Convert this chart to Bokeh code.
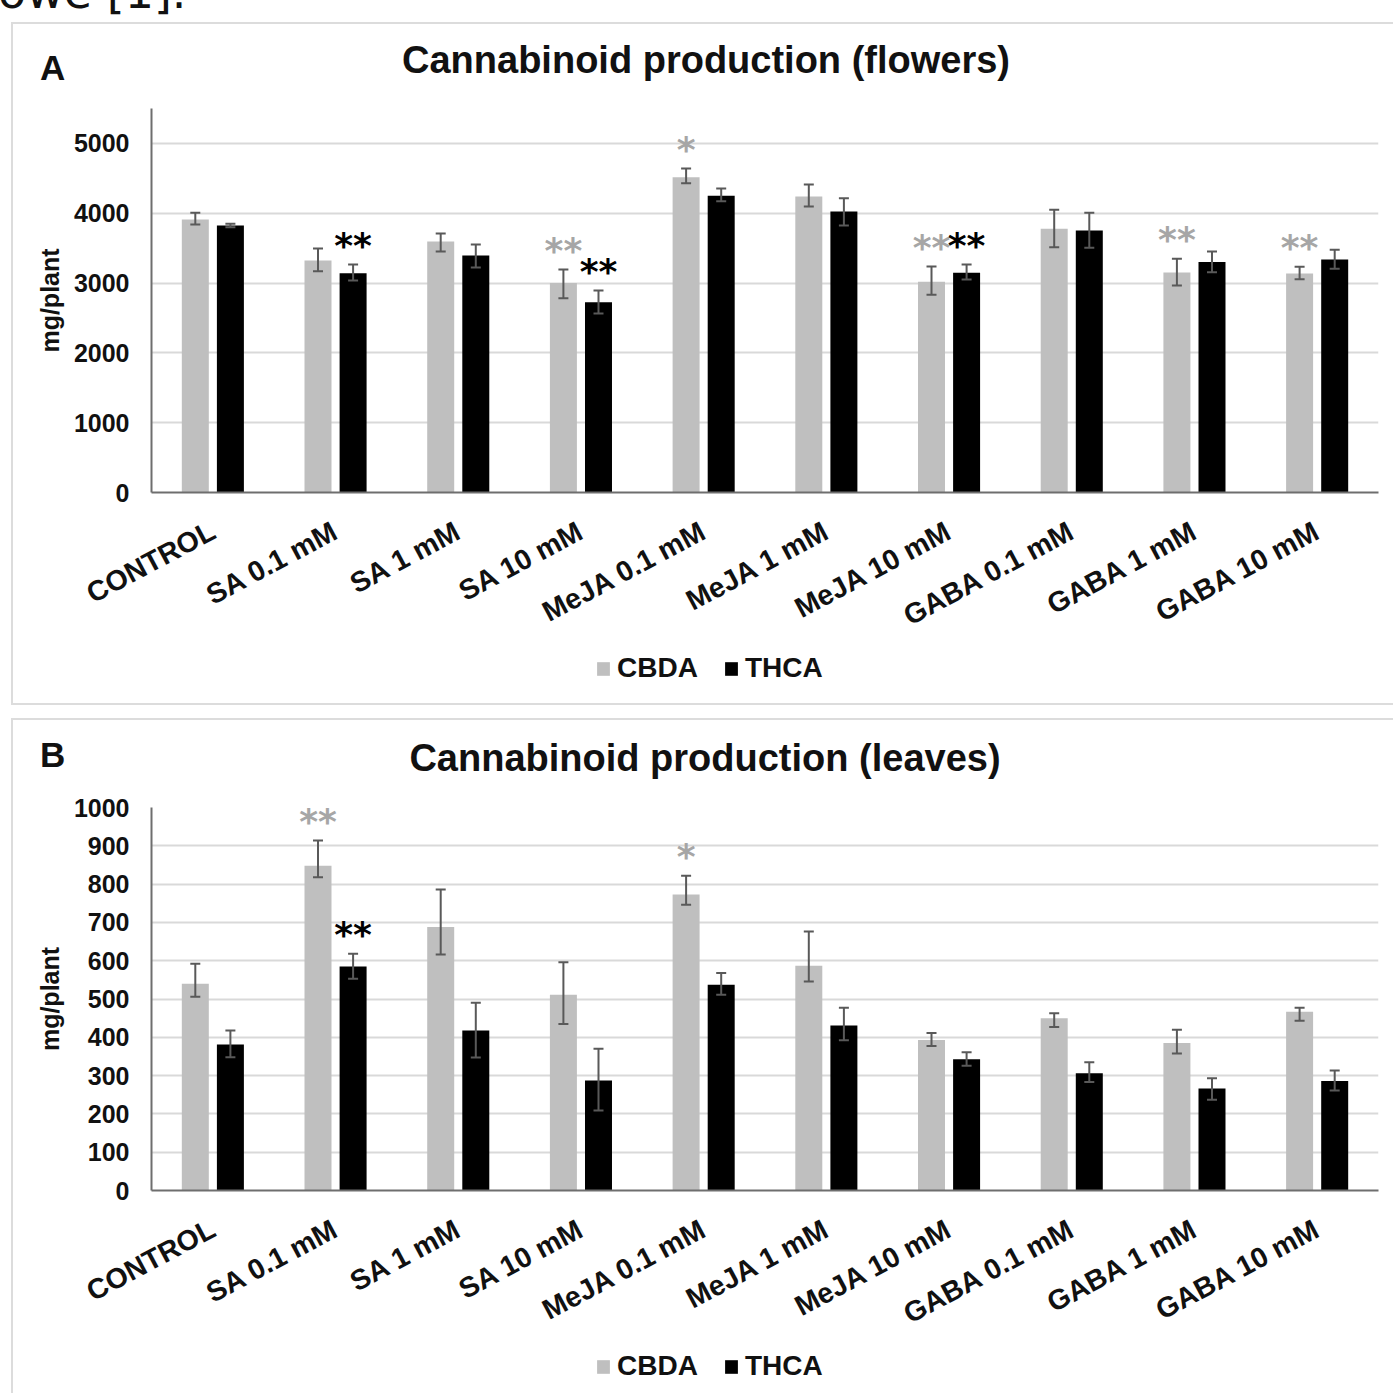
import numpy as np
from bokeh.plotting import figure
from bokeh.models import (ColumnDataSource, FactorRange, Range1d, Whisker, TeeHead,
                          Legend, LegendItem, FixedTicker, Div)
from bokeh.transform import dodge
from bokeh.layouts import column
from bokeh.embed import file_html
from bokeh.resources import INLINE
from bokeh.core.properties import value

# ---------------- data ----------------
categories = ["CONTROL", "SA 0.1 mM", "SA 1 mM", "SA 10 mM", "MeJA 0.1 mM",
              "MeJA 1 mM", "MeJA 10 mM", "GABA 0.1 mM", "GABA 1 mM", "GABA 10 mM"]

flowers_cbda    = [3910, 3324, 3596, 3000, 4517, 4241, 3018, 3778, 3152, 3138]
flowers_cbda_hi = [4007, 3496, 3711, 3195, 4642, 4413, 3238, 4050, 3348, 3234]
flowers_cbda_lo = [3840, 3170, 3453, 2784, 4431, 4097, 2832, 3514, 2966, 3056]
flowers_thca    = [3825, 3142, 3395, 2726, 4250, 4026, 3147, 3754, 3300, 3338]
flowers_thca_hi = [3850, 3266, 3553, 2894, 4355, 4216, 3266, 4007, 3453, 3477]
flowers_thca_lo = [3800, 3037, 3223, 2564, 4173, 3825, 3052, 3506, 3156, 3205]
flowers_cbda_sig = ["", "", "", "**", "*", "", "**", "", "**", "**"]
flowers_thca_sig = ["", "**", "", "**", "", "", "**", "", "", ""]

leaves_cbda    = [540, 848, 688, 511, 773, 587, 393, 450, 385, 467]
leaves_cbda_hi = [592, 914, 786, 596, 822, 676, 411, 463, 420, 477]
leaves_cbda_lo = [506, 818, 616, 435, 746, 546, 377, 427, 358, 443]
leaves_thca    = [381, 585, 418, 287, 537, 431, 343, 306, 266, 286]
leaves_thca_hi = [418, 618, 490, 370, 568, 477, 361, 335, 293, 313]
leaves_thca_lo = [348, 553, 347, 209, 511, 392, 326, 283, 237, 261]
leaves_cbda_sig = ["", "**", "", "", "*", "", "", "", "", ""]
leaves_thca_sig = ["", "**", "", "", "", "", "", "", "", ""]

flowers_ticks = [0, 1000, 2000, 3000, 4000, 5000]
leaves_ticks = [0, 100, 200, 300, 400, 500, 600, 700, 800, 900, 1000]

series_names = ["CBDA", "THCA"]
panel_letters = ["A", "B"]
panel_titles = ["Cannabinoid production (flowers)", "Cannabinoid production (leaves)"]
y_label = "mg/plant"
fragment_text = "owe [1]."

# ---------------- styles ----------------
FONT = "Liberation Sans"
CBDA_COLOR = "#bfbfbf"
THCA_COLOR = "#000000"
ERR_COLOR = "#595959"
GRID_COLOR = "#d9d9d9"
AXIS_COLOR = "#6e6e6e"
SIG_GREY = "#a6a6a6"
TXT = "#111111"
BOX = "#dcdcdc"
W = 1393
FL, FR = 151, 15          # frame borders (left / right)
OFF = 0.143
BAR_W = 0.22


def span(text, baseline, size, left=None, center=None, font=FONT, weight="bold"):
    top = baseline - 0.846 * size
    if center is not None:
        pos = f"left:{center - W / 2:.1f}px;width:{W}px;text-align:center;"
    else:
        pos = f"left:{left}px;"
    return (f'<span style="position:absolute;top:{top:.1f}px;{pos}font-family:\'{font}\';'
            f'font-weight:{weight};font-size:{size}px;line-height:1;white-space:nowrap;'
            f'color:{TXT};">{text}</span>')


def header(height, spans):
    html = (f'<div style="position:relative;width:{W}px;height:{height}px;overflow:hidden;">'
            + "".join(spans) + "</div>")
    return Div(text=html, width=W, height=height, margin=0)


def legend_strip(height, legend_bottom):
    s = figure(width=W, height=height, x_range=Range1d(0, 1), y_range=Range1d(0, 1),
               x_axis_type=None, y_axis_type=None, output_backend="svg",
               toolbar_location=None, min_border_left=FL, min_border_right=FR,
               min_border_top=0, min_border_bottom=0)
    s.title.visible = False
    s.outline_line_color = None
    s.background_fill_color = None
    s.border_fill_color = None
    # legend proxies of zero size (they only lend their colours to the legend)
    rc = s.vbar(x=[0.5], top=[0.5], bottom=[0.5], width=0, fill_color=CBDA_COLOR, line_color=None)
    rt = s.vbar(x=[0.5], top=[0.5], bottom=[0.5], width=0, fill_color=THCA_COLOR, line_color=None)
    lg = Legend(items=[LegendItem(label=series_names[0], renderers=[rc]),
                       LegendItem(label=series_names[1], renderers=[rt])],
                orientation="horizontal", location=(595 - FL, height - legend_bottom),
                border_line_color=None, background_fill_alpha=0, padding=0, margin=0,
                spacing=25, label_standoff=6, glyph_width=16, glyph_height=17,
                label_text_font=FONT, label_text_font_style="bold",
                label_text_font_size="28px", label_text_color=TXT)
    s.add_layout(lg)
    return s


def chart(cbda, cbda_hi, cbda_lo, thca, thca_hi, thca_lo, sig_c, sig_t, ymax, ticks,
          height, frame_top, frame_h):
    src = ColumnDataSource(dict(cat=categories, cbda=cbda, cbda_hi=cbda_hi, cbda_lo=cbda_lo,
                                thca=thca, thca_hi=thca_hi, thca_lo=thca_lo,
                                sig_c=sig_c, sig_t=sig_t))
    p = figure(x_range=FactorRange(*categories), y_range=Range1d(0, ymax),
               width=W, height=height, output_backend="svg", toolbar_location=None,
               min_border_left=FL, min_border_right=FR, min_border_top=frame_top,
               min_border_bottom=height - frame_top - frame_h)
    p.title.visible = False
    p.outline_line_color = None
    p.background_fill_color = "white"
    p.border_fill_color = None

    xc = dodge("cat", -OFF, range=p.x_range)
    xt = dodge("cat", OFF, range=p.x_range)
    p.vbar(x=xc, top="cbda", width=BAR_W, source=src, fill_color=CBDA_COLOR, line_color=None)
    p.vbar(x=xt, top="thca", width=BAR_W, source=src, fill_color=THCA_COLOR, line_color=None)

    for base, up, lo in ((xc, "cbda_hi", "cbda_lo"), (xt, "thca_hi", "thca_lo")):
        p.add_layout(Whisker(base=base, upper=up, lower=lo, source=src,
                             line_color=ERR_COLOR, line_width=2,
                             upper_head=TeeHead(size=10, line_color=ERR_COLOR, line_width=2),
                             lower_head=TeeHead(size=10, line_color=ERR_COLOR, line_width=2),
                             level="annotation"))

    for xx, yy, col, colr in ((xc, "cbda_hi", "sig_c", SIG_GREY), (xt, "thca_hi", "sig_t", "#000000")):
        p.text(x=xx, y=yy, text=col, source=src, text_font=value("DejaVu Sans"),
               text_font_style="bold", text_font_size="36px", text_color=colr,
               text_align="center", text_baseline="middle", y_offset=-19)

    p.xgrid.grid_line_color = None
    p.ygrid.grid_line_color = GRID_COLOR
    p.ygrid.grid_line_width = 2
    p.yaxis.ticker = FixedTicker(ticks=ticks)
    p.yaxis.minor_tick_line_color = None
    p.yaxis.major_tick_line_color = None
    p.yaxis.major_tick_in = 0
    p.yaxis.major_tick_out = 0
    p.yaxis.axis_line_color = AXIS_COLOR
    p.yaxis.axis_line_width = 2
    p.yaxis.major_label_standoff = 22
    p.yaxis.major_label_text_font = FONT
    p.yaxis.major_label_text_font_style = "bold"
    p.yaxis.major_label_text_font_size = "25px"
    p.yaxis.major_label_text_color = TXT
    p.yaxis.axis_label = y_label
    p.yaxis.axis_label_text_font = FONT
    p.yaxis.axis_label_text_font_style = "bold"
    p.yaxis.axis_label_text_font_size = "25px"
    p.yaxis.axis_label_text_color = TXT
    p.yaxis.axis_label_standoff = 7

    p.xaxis.major_tick_line_color = None
    p.xaxis.minor_tick_line_color = None
    p.xaxis.major_tick_in = 0
    p.xaxis.major_tick_out = 0
    p.xaxis.axis_line_color = AXIS_COLOR
    p.xaxis.axis_line_width = 2
    p.xaxis.major_label_orientation = 0.49
    p.xaxis.major_label_standoff = 36
    p.xaxis.major_label_text_font = FONT
    p.xaxis.major_label_text_font_style = "bold"
    p.xaxis.major_label_text_font_size = "28.5px"
    p.xaxis.major_label_text_color = TXT
    return p


# ---- page pieces (heights sum to 1393) ----
hdrA = header(100, [span(fragment_text, 8, 46, left=-2, font="DejaVu Sans", weight="normal"),
                    span(panel_letters[0], 80, 35, left=40),
                    span(panel_titles[0], 73, 38, center=706)])           # 0..100
pA = chart(flowers_cbda, flowers_cbda_hi, flowers_cbda_lo, flowers_thca, flowers_thca_hi,
           flowers_thca_lo, flowers_cbda_sig, flowers_thca_sig, 5500, flowers_ticks,
           height=550, frame_top=8, frame_h=384)                          # 100..650
legA = legend_strip(61, 684 - 650)                                         # 650..711
hdrB = header(69, [span(panel_letters[1], 767 - 711, 35, left=40),
                   span(panel_titles[1], 771 - 711, 38, center=705)])     # 711..780
pB = chart(leaves_cbda, leaves_cbda_hi, leaves_cbda_lo, leaves_thca, leaves_thca_hi,
           leaves_thca_lo, leaves_cbda_sig, leaves_thca_sig, 1000, leaves_ticks,
           height=568, frame_top=27, frame_h=383)                         # 780..1348
legB = legend_strip(45, 1382 - 1348)                                       # 1348..1393

g = f"linear-gradient({BOX},{BOX})"
bg = ", ".join([
    f"{g} 11px 22px / 2px 683px no-repeat",
    f"{g} 11px 22px / {W}px 2px no-repeat",
    f"{g} 11px 703px / {W}px 2px no-repeat",
    f"{g} 11px 718px / 2px 700px no-repeat",
    f"{g} 11px 718px / {W}px 2px no-repeat",
]) + ", white"

layout = column(hdrA, pA, legA, hdrB, pB, legB, spacing=0, styles={"background": bg})
open("out.html", "w").write(file_html(layout, INLINE))
